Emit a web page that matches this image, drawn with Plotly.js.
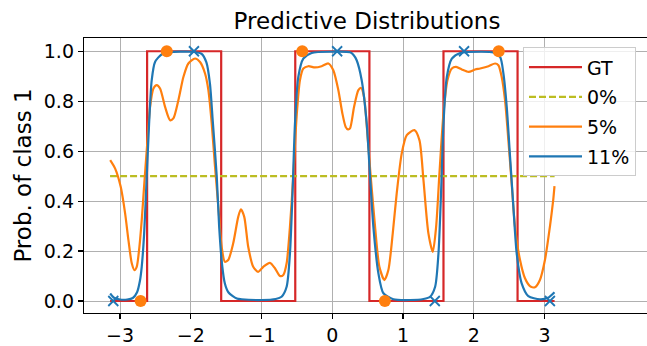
<!DOCTYPE html>
<html>
<head>
<meta charset="utf-8">
<script src="https://cdn.plot.ly/plotly-3.0.1.min.js"></script>
<style>
html,body{margin:0;padding:0;overflow:hidden;background:#fff;}
#chart{width:660px;height:346px;}
</style>
</head>
<body>
<div id="chart"></div>
<script>
// Ground truth (step function)
const gtX = [-3.1416, -2.618, -2.618, -1.571, -1.571, -0.524, -0.524, 0.524, 0.524, 1.571, 1.571, 2.618, 2.618, 3.1416];
const gtY = [0, 0, 1, 1, 0, 0, 1, 1, 0, 0, 1, 1, 0, 0];

// 0% : constant prediction
const zeroX = [-3.1416, 3.1416];
const zeroY = [0.5, 0.5];

// 5% predictive curve
const fiveX = [-3.14, -3.071, -2.991, -2.929, -2.882, -2.835, -2.798, -2.765, -2.727, -2.694, -2.661, -2.623, -2.576, -2.529, -2.482, -2.435, -2.364, -2.294, -2.247, -2.176, -2.105, -2.035, -1.941, -1.870, -1.799, -1.752, -1.705, -1.658, -1.611, -1.564, -1.519, -1.472, -1.401, -1.330, -1.292, -1.245, -1.189, -1.118, -1.047, -0.976, -0.882, -0.811, -0.741, -0.693, -0.646, -0.599, -0.552, -0.505, -0.458, -0.410, -0.340, -0.245, -0.151, -0.057, 0.014, 0.085, 0.142, 0.189, 0.222, 0.25, 0.307, 0.368, 0.406, 0.448, 0.495, 0.542, 0.604, 0.665, 0.736, 0.792, 0.854, 0.910, 0.981, 1.052, 1.160, 1.231, 1.288, 1.358, 1.420, 1.467, 1.514, 1.571, 1.627, 1.689, 1.750, 1.830, 1.925, 2.019, 2.089, 2.207, 2.300, 2.347, 2.394, 2.441, 2.488, 2.535, 2.582, 2.653, 2.723, 2.793, 2.864, 2.934, 3.005, 3.075, 3.122, 3.14];
const fiveY = [0.564, 0.531, 0.457, 0.351, 0.244, 0.151, 0.124, 0.137, 0.217, 0.324, 0.457, 0.604, 0.777, 0.851, 0.864, 0.851, 0.777, 0.724, 0.731, 0.804, 0.897, 0.951, 0.971, 0.957, 0.911, 0.844, 0.711, 0.537, 0.377, 0.217, 0.157, 0.164, 0.231, 0.337, 0.367, 0.337, 0.217, 0.137, 0.117, 0.137, 0.153, 0.131, 0.100, 0.104, 0.151, 0.297, 0.500, 0.737, 0.884, 0.931, 0.940, 0.935, 0.940, 0.951, 0.924, 0.844, 0.751, 0.697, 0.687, 0.691, 0.777, 0.844, 0.853, 0.817, 0.671, 0.500, 0.297, 0.137, 0.084, 0.124, 0.271, 0.431, 0.591, 0.664, 0.684, 0.644, 0.484, 0.271, 0.197, 0.297, 0.511, 0.751, 0.884, 0.931, 0.937, 0.927, 0.917, 0.927, 0.931, 0.940, 0.951, 0.944, 0.897, 0.804, 0.644, 0.471, 0.297, 0.164, 0.091, 0.060, 0.055, 0.084, 0.164, 0.297, 0.404, 0.460];

// 11% predictive curve
const elevX = [-3.14, -3.08, -3.0, -2.9, -2.82, -2.76, -2.72, -2.694, -2.66, -2.623, -2.59, -2.553, -2.506, -2.41, -2.3, -2.0, -1.85, -1.78, -1.73, -1.69, -1.634, -1.60, -1.56, -1.519, -1.47, -1.35, -1.283, -1.0, -0.8, -0.717, -0.646, -0.599, -0.561, -0.528, -0.481, -0.41, -0.292, 0.0, 0.25, 0.30, 0.344, 0.415, 0.486, 0.533, 0.58, 0.651, 0.722, 0.863, 1.1, 1.288, 1.382, 1.453, 1.5, 1.538, 1.571, 1.618, 1.689, 1.807, 2.1, 2.277, 2.371, 2.418, 2.465, 2.512, 2.559, 2.606, 2.676, 2.77, 2.934, 3.05, 3.14];
const elevY = [0.03, 0.012, 0.006, 0.006, 0.012, 0.035, 0.08, 0.137, 0.27, 0.5, 0.71, 0.884, 0.957, 0.988, 0.996, 0.998, 0.99, 0.955, 0.87, 0.72, 0.5, 0.3, 0.15, 0.07, 0.035, 0.01, 0.007, 0.004, 0.008, 0.017, 0.057, 0.19, 0.444, 0.71, 0.897, 0.97, 0.993, 0.998, 0.996, 0.985, 0.964, 0.884, 0.71, 0.5, 0.297, 0.111, 0.031, 0.007, 0.004, 0.008, 0.017, 0.057, 0.19, 0.444, 0.71, 0.897, 0.97, 0.993, 0.998, 0.995, 0.977, 0.911, 0.777, 0.577, 0.377, 0.19, 0.071, 0.02, 0.007, 0.013, 0.035];

// Observed points
const circX = [-2.71, -2.34, -0.425, 0.743, 2.352];
const circY = [0, 1, 1, 0, 1];
const crossX = [-3.096, -1.956, 0.068, 1.448, 1.862, 3.075];
const crossY = [0, 1, 1, 0, 1, 0];

const xTicks = [-3, -2, -1, 0, 1, 2, 3];
const yTicks = [0, 0.2, 0.4, 0.6, 0.8, 1.0];

const FONT = 'DejaVu Sans, sans-serif';
const RED = '#d62728', OLIVE = '#bcbd22', ORANGE = '#ff7f0e', BLUE = '#1f77b4';

const traces = [
  {x: gtX, y: gtY, mode: 'lines', name: 'GT', legendgroup: 'a',
   line: {color: RED, width: 2.2}},
  {x: zeroX, y: zeroY, mode: 'lines', name: '0%', legendgroup: 'b',
   line: {color: OLIVE, width: 2.2, dash: '7px,3px'}},
  {x: fiveX, y: fiveY, mode: 'lines', name: '5%', legendgroup: 'c',
   line: {color: ORANGE, width: 2.2, shape: 'spline', smoothing: 0.7}},
  {x: elevX, y: elevY, mode: 'lines', name: '11%', legendgroup: 'd',
   line: {color: BLUE, width: 2.2, shape: 'spline', smoothing: 0.7}},
  {x: circX, y: circY, mode: 'markers', showlegend: false,
   marker: {color: ORANGE, size: 12, symbol: 'circle'}},
  {x: crossX, y: crossY, mode: 'markers', showlegend: false,
   marker: {color: BLUE, size: 10, symbol: 'x-thin', line: {color: BLUE, width: 1.8}}}
];

const layout = {
  width: 660, height: 346,
  margin: {l: 84, r: 10, t: 38, b: 33, pad: 0},
  paper_bgcolor: '#fff', plot_bgcolor: '#fff',
  font: {family: FONT, color: '#000', size: 19},
  title: {text: 'Predictive Distributions', font: {family: FONT, size: 23, color: '#000'},
          xref: 'paper', x: 0.5, xanchor: 'center', yref: 'container', y: 0.94, yanchor: 'middle'},
  xaxis: {range: [-3.51, 4.49], tickvals: xTicks, ticks: 'outside', ticklen: 5, tickwidth: 1.2,
          tickcolor: '#000', showline: true, linecolor: '#000', linewidth: 1.2, mirror: true,
          showgrid: true, gridcolor: '#b0b0b0', gridwidth: 1, zeroline: false,
          tickfont: {family: FONT, size: 19, color: '#000'}},
  yaxis: {range: [-0.048, 1.053], tickvals: yTicks, tickformat: '.1f', ticks: 'outside', ticklen: 5,
          tickwidth: 1.2, tickcolor: '#000', showline: true, linecolor: '#000', linewidth: 1.2,
          mirror: true, showgrid: true, gridcolor: '#b0b0b0', gridwidth: 1, zeroline: false,
          tickfont: {family: FONT, size: 19, color: '#000'},
          title: {text: 'Prob. of class 1', font: {family: FONT, size: 23, color: '#000'}, standoff: 5}},
  showlegend: true,
  legend: {x: 0.7756, y: 0.966, xanchor: 'left', yanchor: 'top',
           bgcolor: 'rgba(255,255,255,0.8)', bordercolor: '#cccccc', borderwidth: 1,
           font: {family: FONT, size: 19, color: '#000'}, traceorder: 'grouped', tracegroupgap: 2,
           itemwidth: 53}
};

Plotly.newPlot('chart', traces, layout, {displayModeBar: false, staticPlot: true});
</script>
</body>
</html>
